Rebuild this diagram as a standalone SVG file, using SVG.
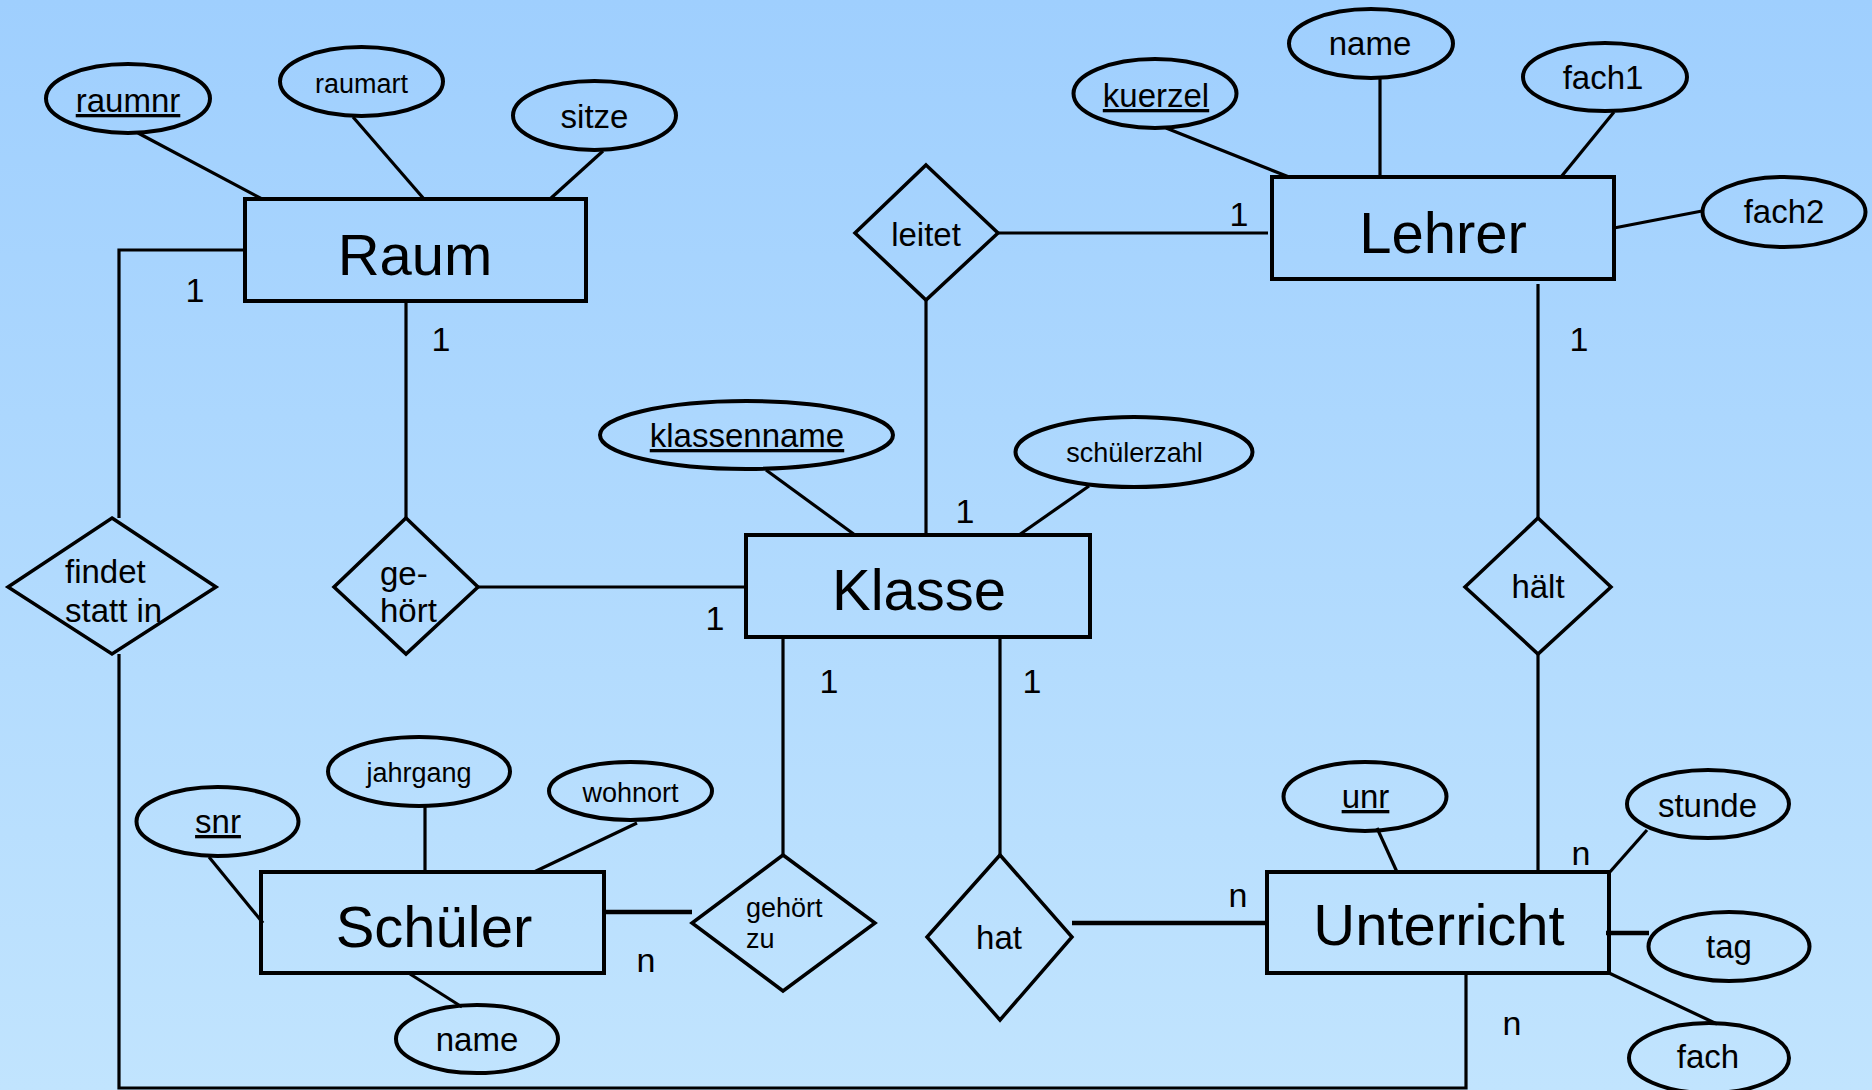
<svg xmlns="http://www.w3.org/2000/svg" width="1872" height="1090" viewBox="0 0 1872 1090">
<defs>
<linearGradient id="bg" x1="0" y1="0" x2="0" y2="1">
<stop offset="0" stop-color="#9fcffe"/>
<stop offset="1" stop-color="#c1e4fe"/>
</linearGradient>
<style>
.ent{fill:none;stroke:#000;stroke-width:4}
.att{fill:none;stroke:#000;stroke-width:4}
.rel{fill:none;stroke:#000;stroke-width:3.5}
.con{fill:none;stroke:#000;stroke-width:3.2}
.et{font-family:"Comic Sans MS","Liberation Sans",sans-serif;font-size:58px;fill:#000;text-anchor:middle}
.t{font-family:"Liberation Sans",Arial,sans-serif;font-size:33px;fill:#000;text-anchor:middle}
.ts{font-family:"Liberation Sans",Arial,sans-serif;font-size:27px;fill:#000;text-anchor:middle}
.tl{font-family:"Liberation Sans",Arial,sans-serif;font-size:33px;fill:#000}
.tsl{font-family:"Liberation Sans",Arial,sans-serif;font-size:27px;fill:#000}
.u{text-decoration:underline}
.c{font-family:"Liberation Sans",Arial,sans-serif;font-size:34px;fill:#000;text-anchor:middle}
</style>
</defs>
<rect x="0" y="0" width="1872" height="1090" fill="url(#bg)"/>

<g id="connectors">
<!-- Raum attributes -->
<line class="con" x1="138" y1="133" x2="262" y2="199"/>
<line class="con" x1="353" y1="117" x2="424" y2="199"/>
<line class="con" x1="603" y1="151" x2="550" y2="199"/>
<!-- Raum - findet statt in -->
<polyline class="con" points="245,250 119,250 119,518"/>
<polyline class="con" points="119,654 119,1088 1466,1088 1466,973"/>
<!-- Raum - gehört -->
<line class="con" x1="406" y1="301" x2="406" y2="518"/>
<line class="con" x1="478" y1="587" x2="746" y2="587"/>
<!-- Lehrer attributes -->
<line class="con" x1="1166" y1="128" x2="1289" y2="177"/>
<line class="con" x1="1380" y1="78" x2="1380" y2="177"/>
<line class="con" x1="1614" y1="112" x2="1561" y2="177"/>
<line class="con" x1="1702" y1="211" x2="1614" y2="228"/>
<!-- leitet -->
<line class="con" x1="998" y1="233" x2="1268" y2="233"/>
<line class="con" x1="926" y1="300" x2="926" y2="535"/>
<!-- hält -->
<line class="con" x1="1538" y1="284" x2="1538" y2="518"/>
<line class="con" x1="1538" y1="654" x2="1538" y2="872"/>
<!-- Klasse attributes -->
<line class="con" x1="766" y1="470" x2="855" y2="535"/>
<line class="con" x1="1089" y1="486" x2="1019" y2="535"/>
<!-- Klasse - gehört zu -->
<line class="con" x1="783" y1="637" x2="783" y2="855"/>
<line class="con" x1="604" y1="912" x2="692" y2="912" style="stroke-width:4.5"/>
<!-- Klasse - hat -->
<line class="con" x1="1000" y1="637" x2="1000" y2="855"/>
<line class="con" x1="1072" y1="923" x2="1267" y2="923" style="stroke-width:4.5"/>
<!-- Schüler attributes -->
<line class="con" x1="209" y1="857" x2="263" y2="923"/>
<line class="con" x1="425" y1="806" x2="425" y2="872"/>
<line class="con" x1="637" y1="823" x2="534" y2="872"/>
<line class="con" x1="410" y1="974" x2="462" y2="1007"/>
<!-- Unterricht attributes -->
<line class="con" x1="1377" y1="828" x2="1397" y2="872"/>
<line class="con" x1="1647" y1="830" x2="1609" y2="873"/>
<line class="con" x1="1606" y1="933" x2="1649" y2="933" style="stroke-width:4.5"/>
<line class="con" x1="1609" y1="973" x2="1717" y2="1024"/>
</g>

<g id="raum">
<rect class="ent" x="245" y="199" width="341" height="102"/>
<text class="et" x="415" y="275">Raum</text>
</g>
<g id="raumnr"><ellipse class="att" cx="128" cy="98.5" rx="82" ry="34.5"/><text class="t u" x="128" y="112">raumnr</text></g>
<g id="raumart"><ellipse class="att" cx="361.5" cy="81.5" rx="81.5" ry="34.5"/><text class="ts" x="361.5" y="93">raumart</text></g>
<g id="sitze"><ellipse class="att" cx="594.5" cy="115.5" rx="81.5" ry="34.5"/><text class="t" x="594.5" y="128">sitze</text></g>

<g id="lehrer">
<rect class="ent" x="1272" y="177" width="342" height="102"/>
<text class="et" x="1443" y="253">Lehrer</text>
</g>
<g id="kuerzel"><ellipse class="att" cx="1155" cy="93.5" rx="81.5" ry="34.5"/><text class="t u" x="1156" y="107">kuerzel</text></g>
<g id="lehrer-name"><ellipse class="att" cx="1371" cy="43.5" rx="82" ry="34.5"/><text class="t" x="1370" y="55">name</text></g>
<g id="fach1"><ellipse class="att" cx="1605" cy="77" rx="82" ry="34"/><text class="t" x="1603" y="89">fach1</text></g>
<g id="fach2"><ellipse class="att" cx="1784" cy="212" rx="81.5" ry="35"/><text class="t" x="1784" y="223">fach2</text></g>

<g id="leitet">
<polygon class="rel" points="926,165 998,233 926,300 855,233"/>
<text class="t" x="926" y="246">leitet</text>
</g>

<g id="findet-statt-in">
<polygon class="rel" points="112,518 216,587 112,654 8,587"/>
<text class="tl" x="65" y="583">findet</text>
<text class="tl" x="65" y="622">statt in</text>
</g>

<g id="gehoert">
<polygon class="rel" points="406,518 478,587 406,654 334,587"/>
<text class="tl" x="380" y="585">ge-</text>
<text class="tl" x="380" y="622">hört</text>
</g>

<g id="klasse">
<rect class="ent" x="746" y="535" width="344" height="102"/>
<text class="et" x="919" y="610">Klasse</text>
</g>
<g id="klassenname"><ellipse class="att" cx="746.5" cy="435" rx="146.5" ry="34"/><text class="t u" x="747" y="447">klassenname</text></g>
<g id="schuelerzahl"><ellipse class="att" cx="1134" cy="452" rx="118.5" ry="35"/><text class="ts" x="1134.5" y="462">schülerzahl</text></g>

<g id="haelt">
<polygon class="rel" points="1538,518 1611,587 1538,654 1465,587"/>
<text class="t" x="1538" y="598">hält</text>
</g>

<g id="schueler">
<rect class="ent" x="261" y="872" width="343" height="101"/>
<text class="et" x="434" y="947">Schüler</text>
</g>
<g id="snr"><ellipse class="att" cx="217.5" cy="821.5" rx="81" ry="34.5"/><text class="t u" x="218" y="833">snr</text></g>
<g id="jahrgang"><ellipse class="att" cx="419" cy="771.5" rx="91" ry="34.5"/><text class="ts" x="419" y="782">jahrgang</text></g>
<g id="wohnort"><ellipse class="att" cx="630.5" cy="791" rx="81.5" ry="29"/><text class="ts" x="630.5" y="802">wohnort</text></g>
<g id="schueler-name"><ellipse class="att" cx="477" cy="1039" rx="81" ry="34"/><text class="t" x="477" y="1051">name</text></g>

<g id="gehoert-zu">
<polygon class="rel" points="783,855 875,923 783,991 692,923"/>
<text class="tsl" x="746" y="917">gehört</text>
<text class="tsl" x="746" y="948">zu</text>
</g>

<g id="hat">
<polygon class="rel" points="1000,855 1072,937 1000,1020 927,937"/>
<text class="t" x="999" y="949">hat</text>
</g>

<g id="unterricht">
<rect class="ent" x="1267" y="872" width="342" height="101"/>
<text class="et" x="1439" y="945">Unterricht</text>
</g>
<g id="unr"><ellipse class="att" cx="1365" cy="796.5" rx="81.5" ry="34.5"/><text class="t u" x="1365.5" y="808">unr</text></g>
<g id="stunde"><ellipse class="att" cx="1708" cy="804" rx="81" ry="34"/><text class="t" x="1707.5" y="817">stunde</text></g>
<g id="tag"><ellipse class="att" cx="1729" cy="946.5" rx="80.5" ry="34.5"/><text class="t" x="1729" y="958">tag</text></g>
<g id="fach"><ellipse class="att" cx="1709" cy="1058" rx="80" ry="35"/><text class="t" x="1708" y="1068">fach</text></g>

<g id="cardinalities">
<text class="c" x="195" y="302">1</text>
<text class="c" x="441" y="351">1</text>
<text class="c" x="715" y="630">1</text>
<text class="c" x="965" y="523">1</text>
<text class="c" x="1239" y="226">1</text>
<text class="c" x="1579" y="351">1</text>
<text class="c" x="829" y="693">1</text>
<text class="c" x="1032" y="693">1</text>
<text class="c" x="646" y="972">n</text>
<text class="c" x="1238" y="907">n</text>
<text class="c" x="1581" y="865">n</text>
<text class="c" x="1512" y="1035">n</text>
</g>
</svg>
